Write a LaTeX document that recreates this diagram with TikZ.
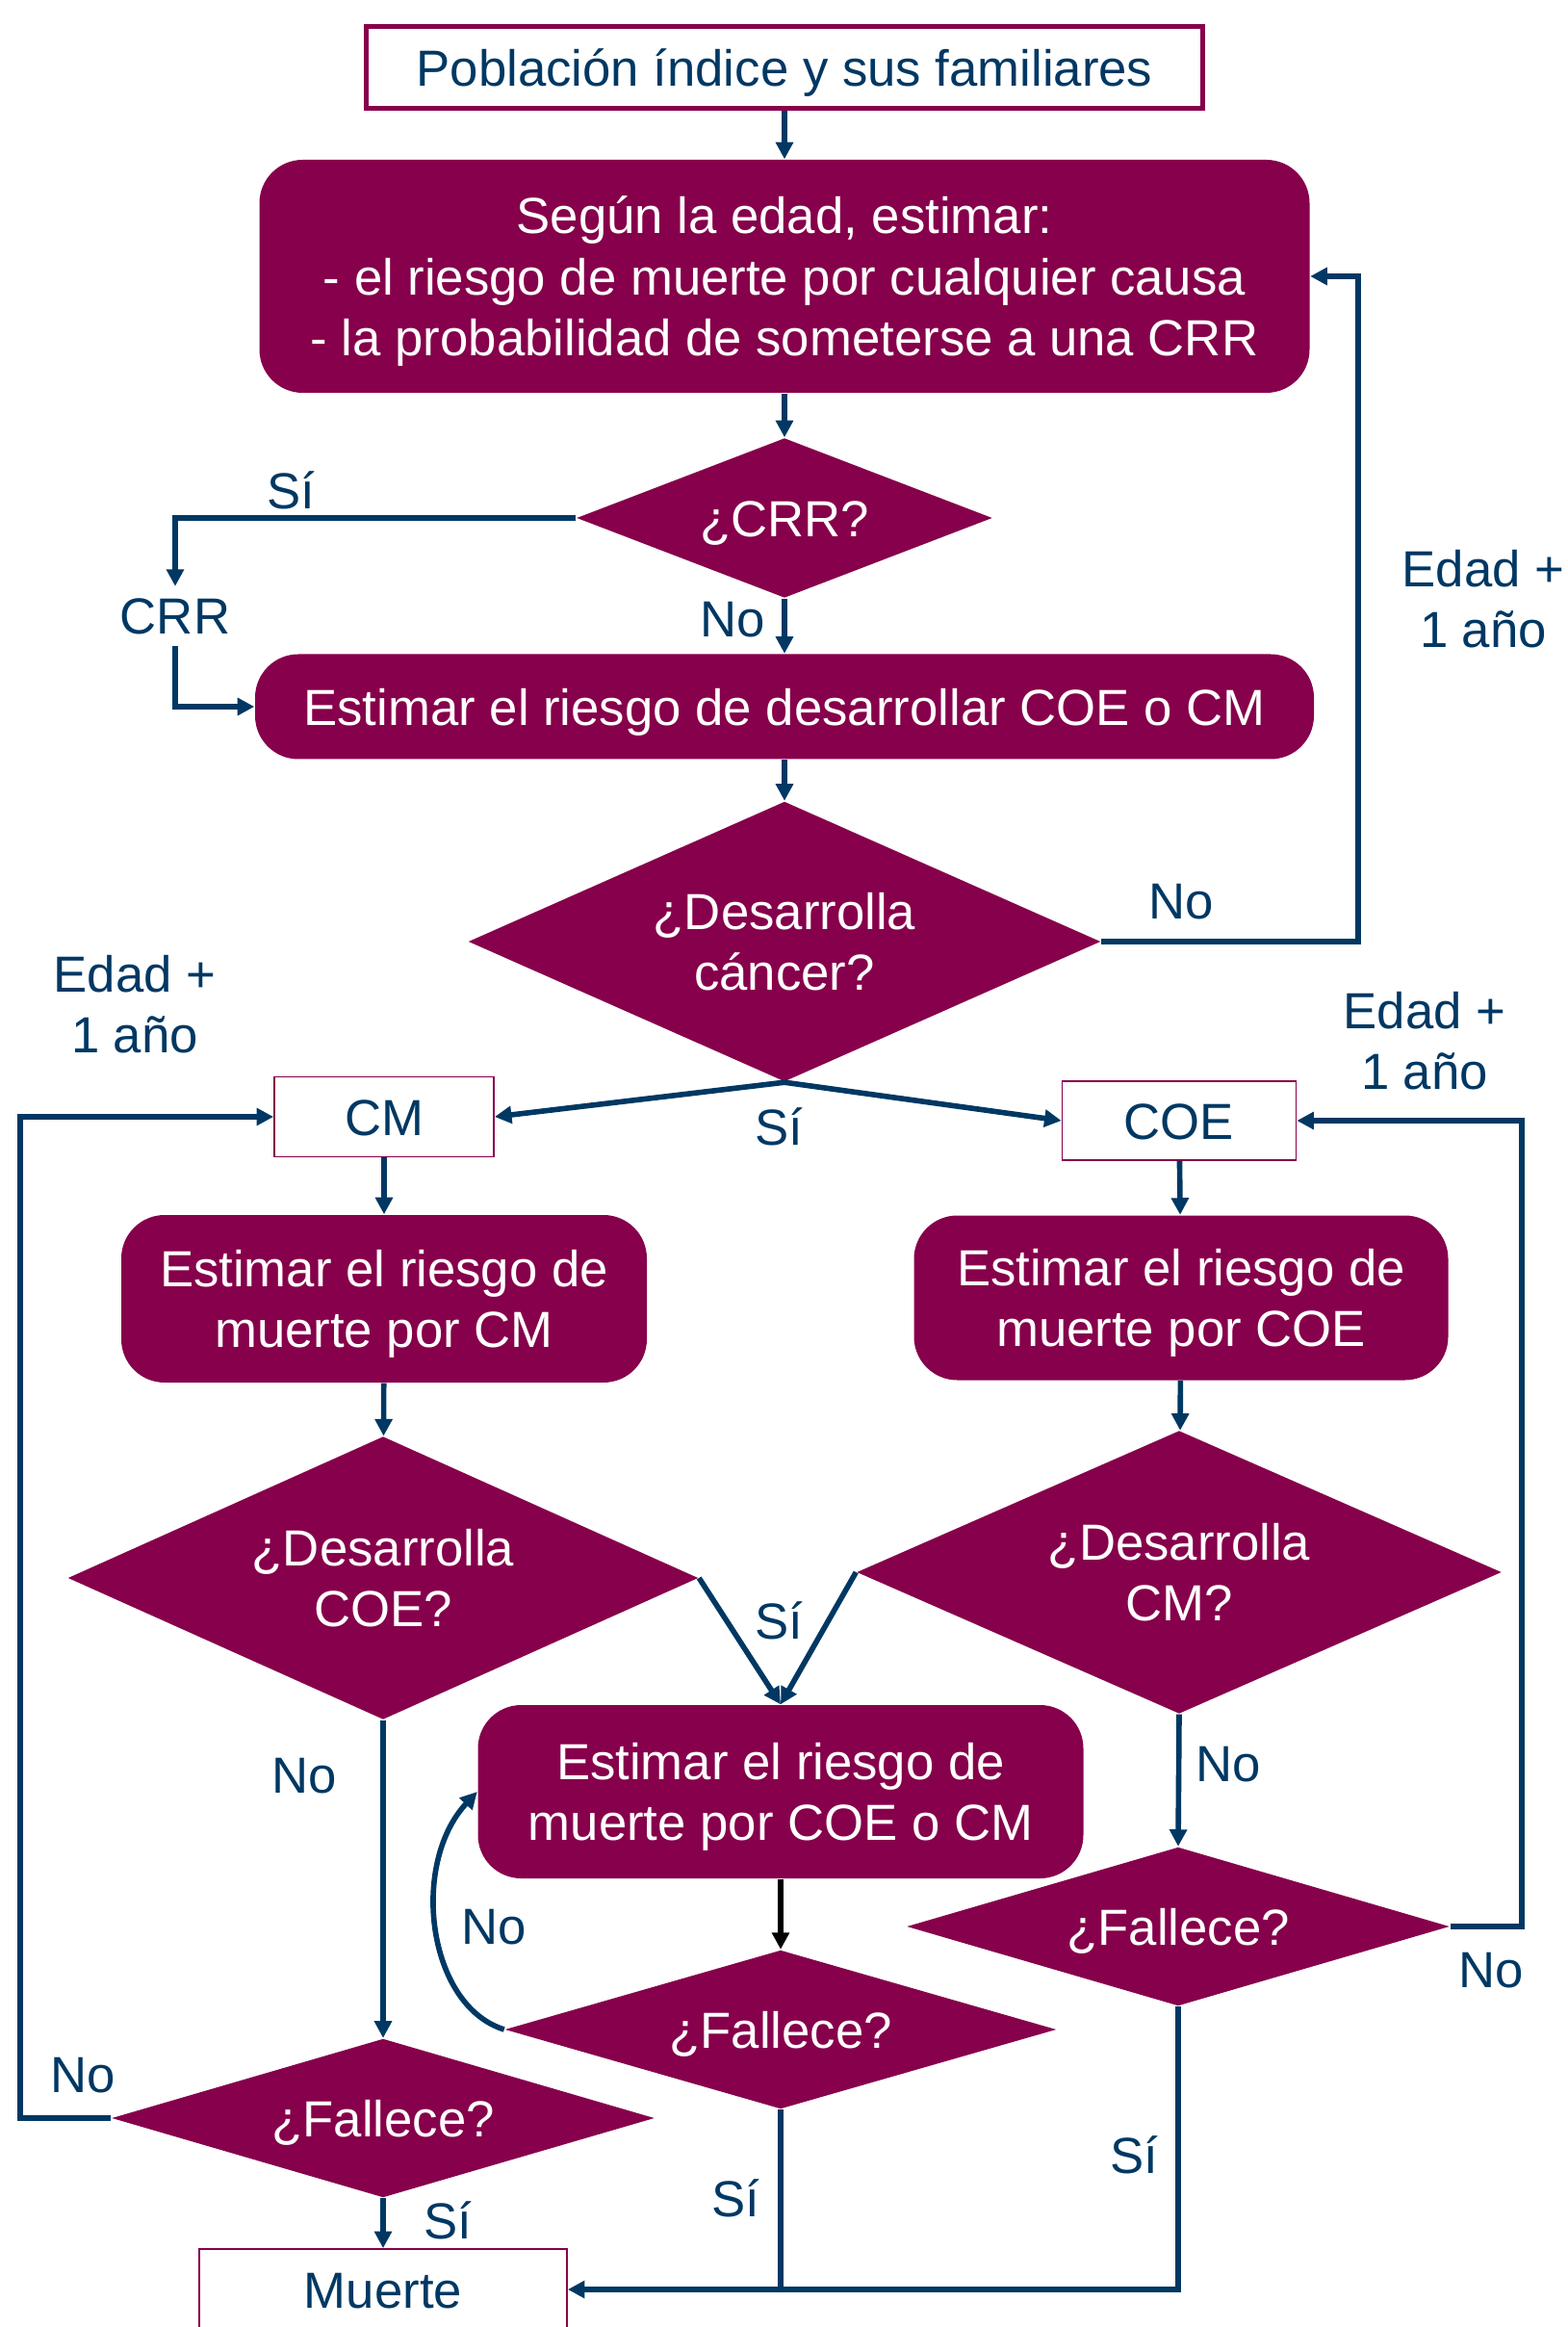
\documentclass[tikz,border=0pt]{standalone}
\usepackage{fontspec}
\setmainfont{Liberation Sans}
\usetikzlibrary{shapes.geometric, arrows.meta, positioning, calc}
\definecolor{granate}{RGB}{134,0,75}
\definecolor{marino}{RGB}{0,56,99}

\tikzset{
  caja/.style={rectangle, rounded corners=0.45cm, fill=granate, text=white, align=center, inner sep=0pt},
  marco/.style={rectangle, draw=granate, fill=white, text=marino, line width=0.5pt, inner sep=0pt},
  rombo/.style={diamond, fill=granate, text=white, align=center, inner sep=0pt},
  etiq/.style={text=marino, align=center},
  unalinea/.style={text height=13.6pt, text depth=2.7pt},
  doslineas/.style={text height=31.6pt, text depth=2.7pt},
  treslineas/.style={text height=49.6pt, text depth=2.7pt},
  linea/.style={draw=marino, line width=1.6pt},
  flecha/.style={linea, -{Triangle[length=5pt,width=5pt]}}
}

\begin{document}
\begin{tikzpicture}[font=\fontsize{15}{18}\selectfont]
                \useasboundingbox (0,0) rectangle (16.29,-24.17);

                % Inicio
                \node[marco, unalinea, line width=1.4pt, minimum width=8.69cm, minimum height=0.85cm] (pob) at (8.15,-0.70) {Población índice y sus familiares};
                \node[caja, treslineas, minimum width=10.91cm, minimum height=2.42cm] (edad) at (8.15,-2.87) {Según la edad, estimar:\\- el riesgo de muerte por cualquier causa\\- la probabilidad de someterse a una CRR};
                \node[rombo, unalinea, aspect=2.6, minimum width=4.32cm, minimum height=1.66cm] (crr) at (8.15,-5.38) {¿CRR?};
                \node[etiq] (crrlab) at (1.82,-6.40) {CRR};
                \node[caja, unalinea, minimum width=11.0cm, minimum height=1.09cm] (desarr) at (8.15,-7.34) {Estimar el riesgo de desarrollar COE o CM};
                \node[rombo, doslineas, aspect=2.26, minimum width=6.57cm, minimum height=2.91cm] (cancer) at (8.15,-9.78) {¿Desarrolla\\cáncer?};

                % Ramas CM y COE
                \node[marco, unalinea, minimum width=2.28cm, minimum height=0.83cm] (cm) at (3.99,-11.60) {CM};
                \node[marco, unalinea, minimum width=2.43cm, minimum height=0.82cm] (coe) at (12.25,-11.64) {COE};
                \node[caja, doslineas, minimum width=5.46cm, minimum height=1.74cm] (mcm) at (3.99,-13.49) {Estimar el riesgo de\\muerte por CM};
                \node[caja, doslineas, minimum width=5.55cm, minimum height=1.71cm] (mcoe) at (12.27,-13.48) {Estimar el riesgo de\\muerte por COE};
                \node[rombo, doslineas, aspect=2.23, minimum width=6.55cm, minimum height=2.94cm] (dcoe) at (3.98,-16.39) {¿Desarrolla\\COE?};
                \node[rombo, doslineas, aspect=2.28, minimum width=6.70cm, minimum height=2.94cm] (dcm) at (12.25,-16.33) {¿Desarrolla\\CM?};
                \node[caja, doslineas, minimum width=6.29cm, minimum height=1.80cm] (mambos) at (8.11,-18.61) {Estimar el riesgo de\\muerte por COE o CM};

                % Fallece
                \node[rombo, unalinea, aspect=3.47, minimum width=5.73cm, minimum height=1.65cm] (fal2) at (8.11,-21.08) {¿Fallece?};
                \node[rombo, unalinea, aspect=3.42, minimum width=5.64cm, minimum height=1.65cm] (fal1) at (3.98,-22.00) {¿Fallece?};
                \node[rombo, unalinea, aspect=3.42, minimum width=5.64cm, minimum height=1.65cm] (fal3) at (12.24,-20.01) {¿Fallece?};
                \node[marco, unalinea, minimum width=3.82cm, minimum height=0.84cm] (muerte) at (3.98,-23.78) {Muerte};

                % Conectores
                \draw[flecha] (pob) -- (edad);
                \draw[flecha] (edad) -- (crr);
                \draw[flecha] (crr) -- (desarr);
                \draw[flecha] (crr.west) -| (crrlab.north);
                \draw[flecha] (crrlab.south) |- (desarr.west);
                \draw[flecha] (desarr) -- (cancer);
                \draw[flecha] (cancer.east) -- ++(2.67,0) |- (edad.east);
                \draw[flecha] (cancer.south) -- (cm.east);
                \draw[flecha] (cancer.south) -- (coe.west);
                \draw[flecha] (cm) -- (mcm);
                \draw[flecha] (coe) -- (mcoe);
                \draw[flecha] (mcm) -- (dcoe);
                \draw[flecha] (mcoe) -- (dcm);
                \draw[flecha] (dcoe.east) -- (mambos.north);
                \draw[flecha] (dcm.west) -- (mambos.north);
                \draw[flecha, draw=black] (mambos) -- (fal2);
                \draw[flecha] (fal2.west) .. controls +(-0.8,0.25) and +(-0.7,-0.75) .. (mambos.west);
                \draw[flecha] (dcoe.south) -- (fal1.north);
                \draw[flecha] (dcm.south) -- (fal3.north);
                \draw[flecha] (fal1) -- (muerte);
                \draw[flecha] (fal1.west) -- ++(-0.94,0) |- (cm.west);
                \draw[flecha] (fal3.east) -- ++(0.74,0) |- (coe.east);
                \draw[flecha] (fal3.south) |- (muerte.east);
                \draw[linea] (fal2.south) -- (fal2.south |- muerte.east);

                % Etiquetas
                \node[etiq] (si1) at (3.02,-5.09) {Sí};
                \node[etiq] (no1) at (7.61,-6.44) {No};
                \node[etiq] (no2) at (12.27,-9.37) {No};
                \node[etiq] (edad1) at (15.41,-6.22) {Edad +\\1 año};
                \node[etiq] (si2) at (8.09,-11.70) {Sí};
                \node[etiq] (edad2) at (1.40,-10.43) {Edad +\\1 año};
                \node[etiq] (edad3) at (14.80,-10.81) {Edad +\\1 año};
                \node[etiq] (si3) at (8.09,-16.83) {Sí};
                \node[etiq] (no3) at (3.16,-18.45) {No};
                \node[etiq] (no4) at (5.13,-20.02) {No};
                \node[etiq] (no5) at (12.76,-18.33) {No};
                \node[etiq] (no6) at (15.49,-20.47) {No};
                \node[etiq] (no7) at (0.86,-21.56) {No};
                \node[etiq] (si4) at (4.65,-23.06) {Sí};
                \node[etiq] (si5) at (7.64,-22.83) {Sí};
                \node[etiq] (si6) at (11.78,-22.38) {Sí};
            \end{tikzpicture}
\end{document}
